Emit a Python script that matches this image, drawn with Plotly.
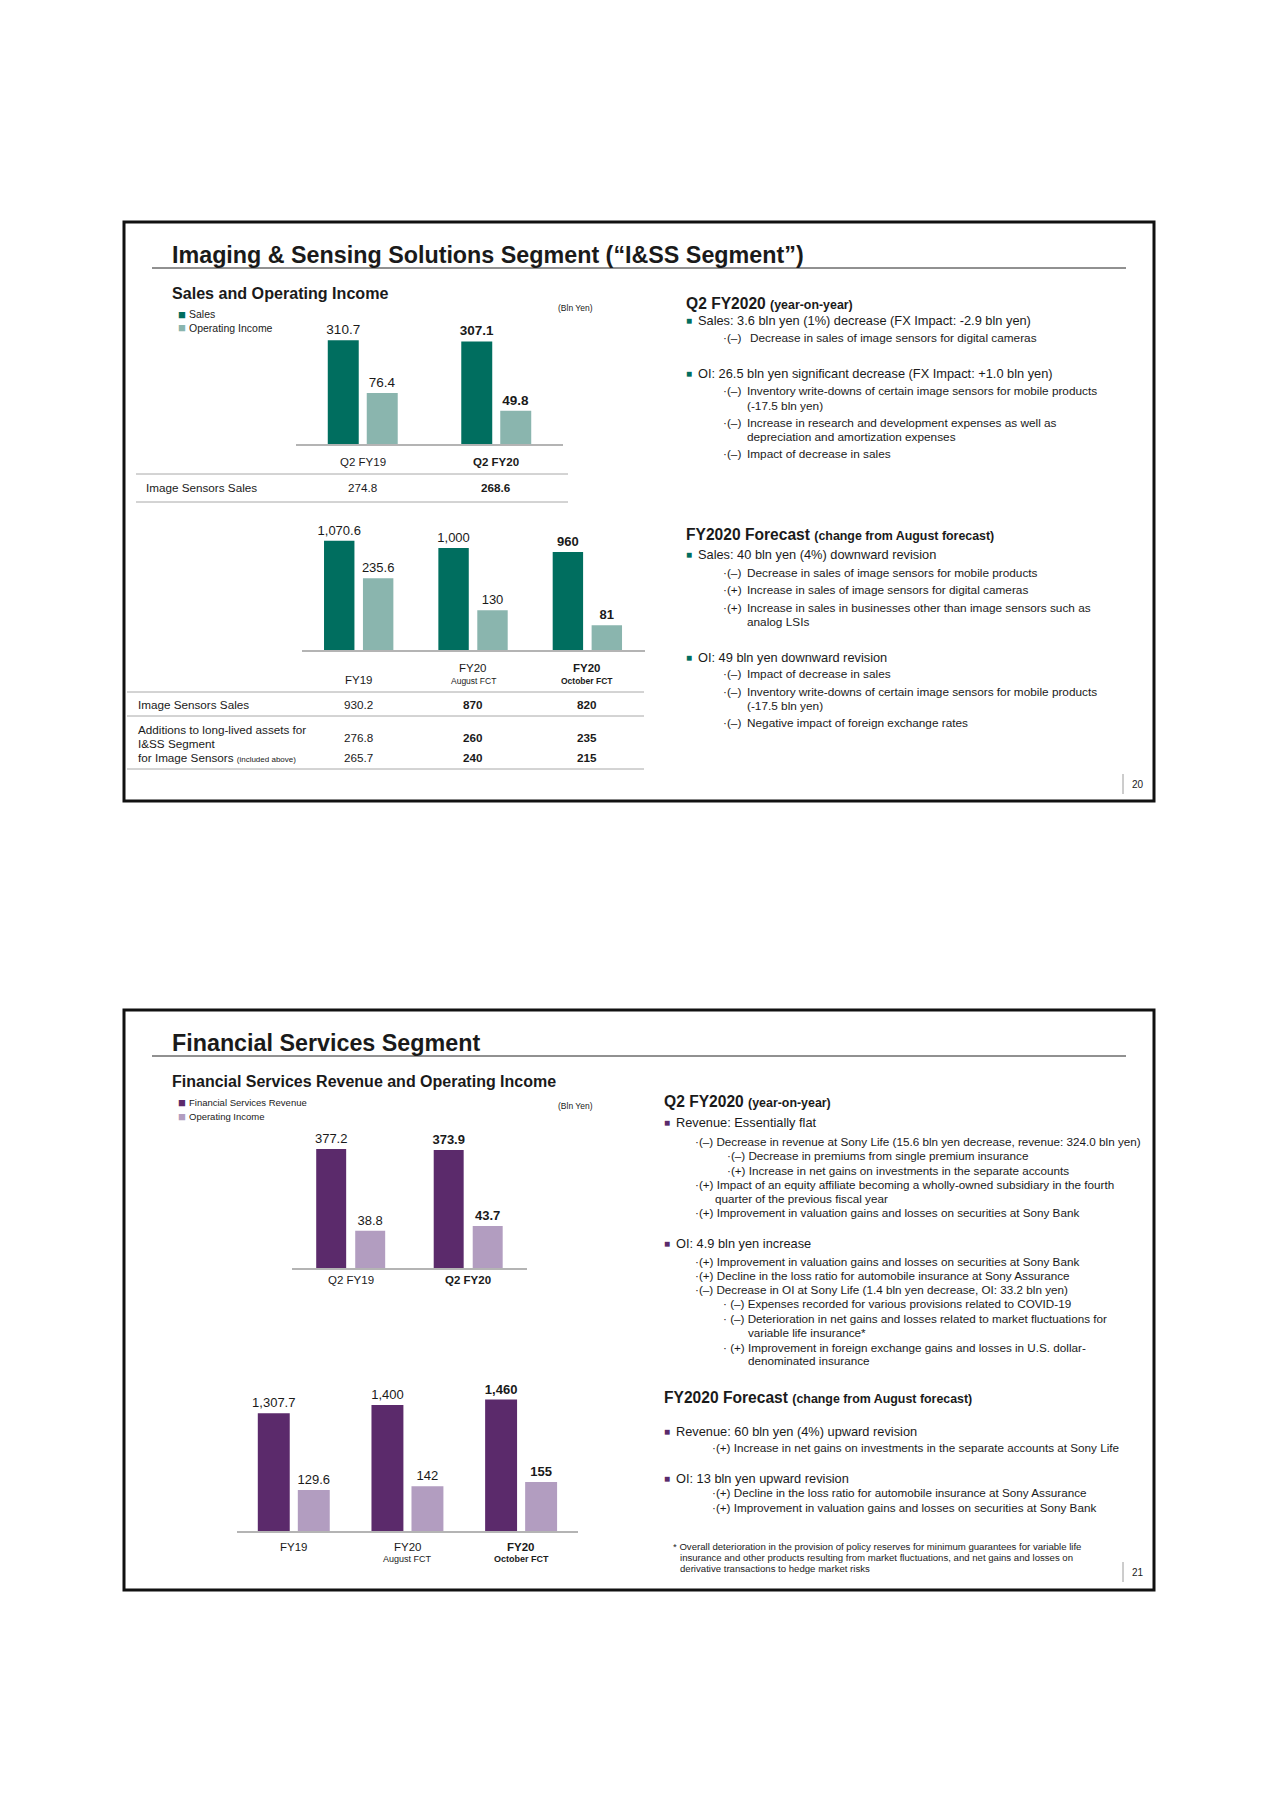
import plotly.graph_objects as go

W, H = 1280, 1811
FONT = "Liberation Sans, Arial, sans-serif"
INK = "#1a1a1a"

# ==========================================
# DATA
# ==========================================
# I&SS segment - quarterly
q2_keys = ["Q2 FY19", "Q2 FY20"]
q2_labels = ["Q2 FY19", "Q2 FY20"]
q2_bold = [False, True]
iss_sales_q2 = [310.7, 307.1]
iss_oi_q2 = [76.4, 49.8]
iss_img_sales_q2 = [274.8, 268.6]

# I&SS segment - full year
fy_keys = ["FY19", "FY20 Aug", "FY20 Oct"]
fy_labels = ["FY19", "FY20", "FY20"]
fy_sublabels = ["", "August FCT", "October FCT"]
fy_bold = [False, False, True]
fy_table_bold = [False, True, True]
iss_sales_fy = [1070.6, 1000, 960]
iss_oi_fy = [235.6, 130, 81]
iss_img_sales_fy = [930.2, 870, 820]
iss_additions_fy = [276.8, 260, 235]
iss_additions_img_fy = [265.7, 240, 215]

# Financial Services segment
fs_rev_q2 = [377.2, 373.9]
fs_oi_q2 = [38.8, 43.7]
fs_rev_fy = [1307.7, 1400, 1460]
fs_oi_fy = [129.6, 142, 155]

GREEN = "#006e5f"
GREEN_L = "#8ab5ae"
PURPLE = "#5b2a6b"
PURPLE_L = "#b29dc0"


def fmt(v):
    return f"{v:,.0f}" if float(v).is_integer() else f"{v:,.1f}"


def lbl(v, b):
    return f"<b>{fmt(v)}</b>" if b else fmt(v)


def px(x):
    return x / W


def py(y):
    return 1 - y / H


fig = go.Figure()
annotations = []
shapes = []


def text(x, y, t, size, color=INK, xanchor="left", xref="paper"):
    if xref == "paper":
        xv = px(x - 2) if xanchor == "left" else px(x)
    else:
        xv = x
    annotations.append(dict(
        x=xv, y=py(y), xref=xref, yref="paper",
        text=t, showarrow=False, xanchor=xanchor, yanchor="middle",
        font=dict(size=size, color=color, family=FONT)))


def hline(x0, x1, y, color="#a8a8a8", width=1):
    shapes.append(dict(type="line", xref="paper", yref="paper",
                       x0=px(x0), x1=px(x1), y0=py(y), y1=py(y),
                       line=dict(color=color, width=width)))


# ==========================================
# BAR CHARTS
# ==========================================
charts = [
    dict(keys=q2_keys, a=iss_sales_q2, b=iss_oi_q2, ca=GREEN, cb=GREEN_L, bold=q2_bold,
         xd=(296, 563), yd=(444, 300), ra=431, rb=216, w=0.232, oa=-0.262, ob=0.03, fs=13.5),
    dict(keys=fy_keys, a=iss_sales_fy, b=iss_oi_fy, ca=GREEN, cb=GREEN_L, bold=fy_bold,
         xd=(301.5, 644.5), yd=(650, 510), ra=1373, rb=459, w=0.266, oa=-0.303, ob=0.0375, fs=13),
    dict(keys=q2_keys, a=fs_rev_q2, b=fs_oi_q2, ca=PURPLE, cb=PURPLE_L, bold=q2_bold,
         xd=(292, 527), yd=(1268, 1130), ra=437, rb=144, w=0.255, oa=-0.294, ob=0.038, fs=13),
    dict(keys=fy_keys, a=fs_rev_fy, b=fs_oi_fy, ca=PURPLE, cb=PURPLE_L, bold=fy_bold,
         xd=(237, 578), yd=(1531, 1380), ra=1678, rb=478, w=0.281, oa=-0.317, ob=0.035, fs=13),
]

layout_axes = {}
for i, c in enumerate(charts):
    xn = "x" if i == 0 else f"x{i + 1}"
    ya = f"y{2 * i + 1}" if i else "y"
    yb = f"y{2 * i + 2}"
    for vals, col, off, yname in ((c["a"], c["ca"], c["oa"], ya), (c["b"], c["cb"], c["ob"], yb)):
        fig.add_trace(go.Bar(
            x=c["keys"], y=vals, xaxis=xn, yaxis=yname,
            width=c["w"], offset=off, marker=dict(color=col, line_width=0),
            text=[lbl(v, b) for v, b in zip(vals, c["bold"])],
            textposition="outside", textangle=0, constraintext="none", cliponaxis=False,
            outsidetextfont=dict(size=c["fs"], color=INK, family=FONT),
            showlegend=False, hoverinfo="skip"))
    xkey = "xaxis" if i == 0 else f"xaxis{i + 1}"
    yakey = "yaxis" if i == 0 else f"yaxis{2 * i + 1}"
    ybkey = f"yaxis{2 * i + 2}"
    layout_axes[xkey] = dict(domain=[px(c["xd"][0]), px(c["xd"][1])], anchor=ya,
                             type="category", range=[-0.5, len(c["keys"]) - 0.5],
                             showline=True, linecolor="#b4b4b4", linewidth=1.5,
                             showticklabels=False, showgrid=False, ticks="", zeroline=False)
    layout_axes[yakey] = dict(domain=[py(c["yd"][0]), py(c["yd"][1])], anchor=xn,
                              range=[0, c["ra"]], visible=False)
    layout_axes[ybkey] = dict(overlaying=ya, anchor=xn, range=[0, c["rb"]], visible=False)

# category labels
for k, t, b in zip(q2_keys, q2_labels, q2_bold):
    text(k, 462, f"<b>{t}</b>" if b else t, 11.5, xanchor="center", xref="x")
    text(k, 1280, f"<b>{t}</b>" if b else t, 11.5, xanchor="center", xref="x3")
for k, t, s, b in zip(fy_keys, fy_labels, fy_sublabels, fy_bold):
    wrap = (lambda z: f"<b>{z}</b>") if b else (lambda z: z)
    text(k, 668 if s else 680, wrap(t), 11.5, xanchor="center", xref="x2")
    text(k, 1547, wrap(t), 11.5, xanchor="center", xref="x4")
    if s:
        text(k, 681, wrap(s), 8.5, xanchor="center", xref="x2")
        text(k, 1559, wrap(s), 9, xanchor="center", xref="x4")

# ==========================================
# TABLES (slide 1)
# ==========================================
TS = 11.7
hline(136, 568, 474)
hline(136, 568, 502)
text(146, 488, "Image Sensors Sales", TS)
for k, v, b in zip(q2_keys, iss_img_sales_q2, q2_bold):
    text(k, 488, lbl(v, b), TS, xanchor="center", xref="x")

hline(127, 644, 692)
hline(127, 644, 716)
hline(127, 644, 769)
text(138, 704, "Image Sensors Sales", TS)
text(138, 729, "Additions to long-lived assets for", TS)
text(138, 743, "I&SS Segment", TS)
text(138, 758, "for Image Sensors <span style='font-size:8px'>(included above)</span>", TS)
for k, v1, v2, v3, b in zip(fy_keys, iss_img_sales_fy, iss_additions_fy, iss_additions_img_fy, fy_table_bold):
    text(k, 704, lbl(v1, b), TS, xanchor="center", xref="x2")
    text(k, 737, lbl(v2, b), TS, xanchor="center", xref="x2")
    text(k, 758, lbl(v3, b), TS, xanchor="center", xref="x2")

# ==========================================
# SLIDE FRAMES, TITLES, LEGENDS
# ==========================================
for y0, y1 in ((222, 801), (1010, 1590)):
    shapes.append(dict(type="rect", xref="paper", yref="paper",
                       x0=px(124), x1=px(1154), y0=py(y0), y1=py(y1),
                       line=dict(color="#111111", width=3)))

text(172, 255, "<b>Imaging & Sensing Solutions Segment (“I&SS Segment”)</b>", 23.3)
hline(152, 1126, 268, color="#222222", width=1)
text(172, 293, "<b>Sales and Operating Income</b>", 16.1)
text(575, 308, "(Bln Yen)", 8.5, xanchor="center")
text(178, 314, "■", 13, color=GREEN)
text(189, 314, "Sales", 10.5)
text(178, 328, "■", 13, color=GREEN_L)
text(189, 328, "Operating Income", 10.5)

text(172, 1043, "<b>Financial Services Segment</b>", 23.3)
hline(152, 1126, 1056, color="#222222", width=1)
text(172, 1081, "<b>Financial Services Revenue and Operating Income</b>", 16)
text(575, 1106, "(Bln Yen)", 8.5, xanchor="center")
text(178, 1102, "■", 13, color=PURPLE)
text(189, 1102, "Financial Services Revenue", 9.5)
text(178, 1116, "■", 13, color=PURPLE_L)
text(189, 1116, "Operating Income", 9.5)

# page numbers
for yy, num in ((784, "20"), (1572, "21")):
    shapes.append(dict(type="line", xref="paper", yref="paper", x0=px(1123), x1=px(1123),
                       y0=py(yy - 10), y1=py(yy + 10), line=dict(color="#9a9a9a", width=1)))
    text(1132, yy, num, 10)

# ==========================================
# COMMENTARY TEXT
# ==========================================
BS = 12.8   # bullet text
S1 = 11.8   # slide 1 sub items
S2 = 11.7   # slide 2 sub items


def heading(x, y, main, sub):
    text(x, y, f"<b>{main} <span style='font-size:12.4px'>{sub}</span></b>", 15.6)


def bullet(xb, xt, y, t, color):
    text(xb, y, "■", 10, color=color)
    text(xt, y, t, BS)


def item(xm, xt, y, mark, t):
    text(xm, y, mark, S1)
    text(xt, y, t, S1)


# slide 1
heading(686, 303, "Q2 FY2020", "(year-on-year)")
bullet(686, 698, 320, "Sales: 3.6 bln yen (1%) decrease (FX Impact: -2.9 bln yen)", GREEN)
item(723, 750, 338, "·(–)", "Decrease in sales of image sensors for digital cameras")
bullet(686, 698, 373, "OI: 26.5 bln yen significant decrease (FX Impact: +1.0 bln yen)", GREEN)
item(723, 747, 391, "·(–)", "Inventory write-downs of certain image sensors for mobile products")
text(747, 406, "(-17.5 bln yen)", S1)
item(723, 747, 423, "·(–)", "Increase in research and development expenses as well as")
text(747, 437, "depreciation and amortization expenses", S1)
item(723, 747, 454, "·(–)", "Impact of decrease in sales")

heading(686, 535, "FY2020 Forecast", "(change from August forecast)")
bullet(686, 698, 554, "Sales: 40 bln yen (4%) downward revision", GREEN)
item(723, 747, 573, "·(–)", "Decrease in sales of image sensors for mobile products")
item(723, 747, 590, "·(+)", "Increase in sales of image sensors for digital cameras")
item(723, 747, 608, "·(+)", "Increase in sales in businesses other than image sensors such as")
text(747, 622, "analog LSIs", S1)
bullet(686, 698, 657, "OI: 49 bln yen downward revision", GREEN)
item(723, 747, 674, "·(–)", "Impact of decrease in sales")
item(723, 747, 692, "·(–)", "Inventory write-downs of certain image sensors for mobile products")
text(747, 706, "(-17.5 bln yen)", S1)
item(723, 747, 723, "·(–)", "Negative impact of foreign exchange rates")

# slide 2
heading(664, 1101, "Q2 FY2020", "(year-on-year)")
bullet(664, 676, 1122, "Revenue: Essentially flat", PURPLE)
text(695, 1141, "·(–) Decrease in revenue at Sony Life (15.6 bln yen decrease, revenue: 324.0 bln yen)", S2)
text(727, 1155, "·(–) Decrease in premiums from single premium insurance", S2)
text(727, 1170, "·(+) Increase in net gains on investments in the separate accounts", S2)
text(695, 1184, "·(+) Impact of an equity affiliate becoming a wholly-owned subsidiary in the fourth", S2)
text(715, 1198, "quarter of the previous fiscal year", S2)
text(695, 1212, "·(+) Improvement in valuation gains and losses on securities at Sony Bank", S2)
bullet(664, 676, 1243, "OI: 4.9 bln yen increase", PURPLE)
text(695, 1261, "·(+) Improvement in valuation gains and losses on securities at Sony Bank", S2)
text(695, 1275, "·(+) Decline in the loss ratio for automobile insurance at Sony Assurance", S2)
text(695, 1289, "·(–) Decrease in OI at Sony Life (1.4 bln yen decrease, OI: 33.2 bln yen)", S2)
text(723, 1303, "· (–) Expenses recorded for various provisions related to COVID-19", S2)
text(723, 1318, "· (–) Deterioration in net gains and losses related to market fluctuations for", S2)
text(748, 1332, "variable life insurance*", S2)
text(723, 1347, "· (+) Improvement in foreign exchange gains and losses in U.S. dollar-", S2)
text(748, 1360, "denominated insurance", S2)

heading(664, 1397, "FY2020 Forecast", "(change from August forecast)")
bullet(664, 676, 1431, "Revenue: 60 bln yen (4%) upward revision", PURPLE)
text(712, 1447, "·(+) Increase in net gains on investments in the separate accounts at Sony Life", S2)
bullet(664, 676, 1478, "OI: 13 bln yen upward revision", PURPLE)
text(712, 1492, "·(+) Decline in the loss ratio for automobile insurance at Sony Assurance", S2)
text(712, 1507, "·(+) Improvement in valuation gains and losses on securities at Sony Bank", S2)

text(673, 1546, "* Overall deterioration in the provision of policy reserves for minimum guarantees for variable life", 9.6)
text(680, 1557, "insurance and other products resulting from market fluctuations, and net gains and losses on", 9.6)
text(680, 1568, "derivative transactions to hedge market risks", 9.6)

# ==========================================
# LAYOUT
# ==========================================
fig.update_layout(
    width=W, height=H,
    margin=dict(l=0, r=0, t=0, b=0),
    paper_bgcolor="white", plot_bgcolor="rgba(0,0,0,0)",
    barmode="overlay", showlegend=False,
    font=dict(family=FONT, color=INK),
    annotations=annotations, shapes=shapes,
    **layout_axes,
)

fig.write_html("out.html", config={"displayModeBar": False},
               post_script="document.body.style.margin='0';")
